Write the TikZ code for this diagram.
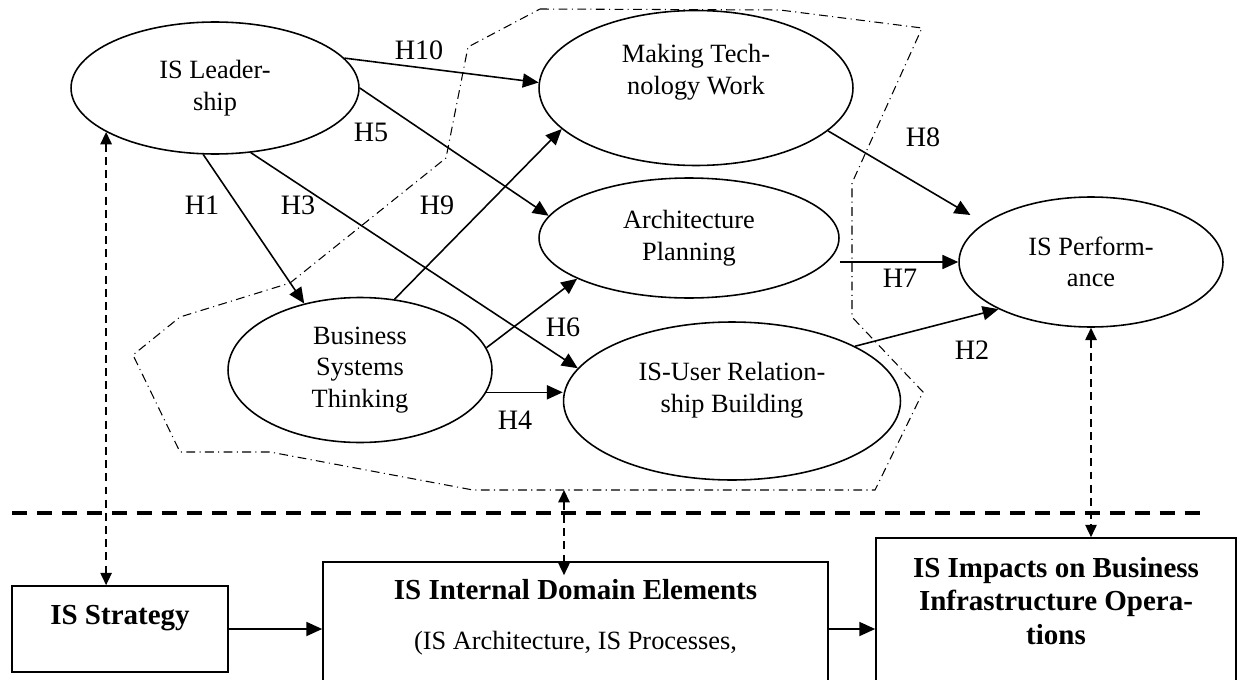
\documentclass[tikz,border=0pt]{standalone}
\usepackage{fontspec}
\setmainfont{Liberation Serif}
\usetikzlibrary{arrows.meta,positioning,calc,shapes.geometric}

\tikzset{
  construct/.style={draw, ellipse, line width=0.9pt, inner sep=0pt, align=center, font=\fontsize{15}{18}\selectfont},
  domainbox/.style={draw, rectangle, line width=1pt, inner sep=0pt},
  boxtext/.style={inner sep=0pt, align=center, font=\fontsize{16.5}{19}\selectfont\bfseries},
  hyp/.style={inner sep=1pt, font=\fontsize{16}{19}\selectfont},
  link/.style={line width=0.9pt, -{Triangle[length=9pt,width=8pt]}},
  linkage/.style={line width=0.8pt, dash pattern=on 4.5pt off 3pt, {Triangle[length=7pt,width=6.5pt]}-{Triangle[length=7pt,width=6.5pt]}},
  zone/.style={line width=0.6pt, dash pattern=on 5pt off 2.5pt on 0.6pt off 2.5pt},
  divider/.style={line width=2.3pt, dash pattern=on 8.5pt off 5.7pt}
}

\begin{document}
\begin{tikzpicture}[x=0.02cm, y=-0.02cm]
		\useasboundingbox (0,0) rectangle (1243,679);

		% Internal domain region
		\draw[zone] (540,9) -- (780,10) -- (922,28) -- (852,183) -- (852,317) -- (923,392) -- (875,490) -- (473,490) -- (270,452) -- (180,452) -- (133,355) -- (180,317) -- (290,283) -- (446,158) -- (468,47) -- cycle;
		\coordinate (zonebase) at (564,490);

		% Constructs
		\node[construct, minimum width=5.76cm, minimum height=2.64cm] (lead) at (215,88) {IS Leader-\\ship};
		\node[construct, minimum width=6.28cm, minimum height=3.1cm] (mtw) at (696,88) {Making Tech-\\nology Work\\[3pt]\mbox{}};
		\node[construct, minimum width=6cm, minimum height=2.4cm] (arch) at (689,238) {Architecture\\Planning};
		\node[construct, minimum width=5.28cm, minimum height=2.6cm] (perf) at (1091,262) {IS Perform-\\ance};
		\node[construct, minimum width=5.28cm, minimum height=2.9cm] (bst) at (360,370) {Business\\Systems\\Thinking};
		\node[construct, minimum width=6.74cm, minimum height=3.16cm] (user) at (732,401) {IS-User Relation-\\ship Building\\[-2.2pt]\mbox{}};

		% Hypotheses
		\draw[link] (lead.13) -- (mtw.178);
		\draw[link] (lead.0) -- (arch.171);
		\draw[link] (lead.260) -- (bst.130);
		\draw[link] (lead.299) -- (user.168);
		\draw[link] (bst.64) -- (mtw.197);
		\draw[link] (bst.10) -- (arch.200);
		\draw[link] (bst.350) -- (bst.350 -| user.west);
		\draw[link, shorten >=9pt] (mtw.342) -- (perf.160);
		\draw[link] (perf.west -| arch.east) -- (perf.west);
		\draw[link] (user.24) -- (perf.207);

		\node[hyp] (h10) at (419,50) {H10};
		\node[hyp] (h5) at (371,132) {H5};
		\node[hyp] (h1) at (202,205) {H1};
		\node[hyp] (h3) at (298,205) {H3};
		\node[hyp] (h9) at (437,205) {H9};
		\node[hyp] (h6) at (563,327) {H6};
		\node[hyp] (h4) at (515,420) {H4};
		\node[hyp] (h8) at (923,137) {H8};
		\node[hyp] (h7) at (900,278) {H7};
		\node[hyp] (h2) at (972,350) {H2};

		% Business level
		\draw[divider] (12,513) -- (1203,513);

		\node[domainbox, minimum width=4.32cm, minimum height=1.72cm] (strat) at (120,629) {};
		\node[boxtext, below=0.4cm of strat.north] (strattext) {IS Strategy};
		\node[domainbox, minimum width=10.1cm, minimum height=3.16cm] (dom) at (575.5,641) {};
		\node[boxtext, below=0.36cm of dom.north] (domtext) {IS Internal Domain Elements\\[9.5pt]{\mdseries\fontsize{15}{18}\selectfont (IS Architecture, IS Processes,}};
		\node[domainbox, minimum width=7.2cm, minimum height=3.64cm] (imp) at (1056,629) {};
		\node[boxtext, below=0.4cm of imp.north] (imptext) {IS Impacts on Business\\Infrastructure Opera-\\tions};

		\draw[link] (strat.east) -- (strat.east -| dom.west);
		\draw[link] (strat.east -| dom.east) -- (strat.east -| imp.west);

		\draw[linkage] (lead.202) -- (lead.202 |- strat.north);
		\draw[linkage] (zonebase) -- ($(zonebase |- dom.north)+(0,14)$);
		\draw[linkage] (perf.south) -- (perf.south |- imp.north);
	\end{tikzpicture}
\end{document}
